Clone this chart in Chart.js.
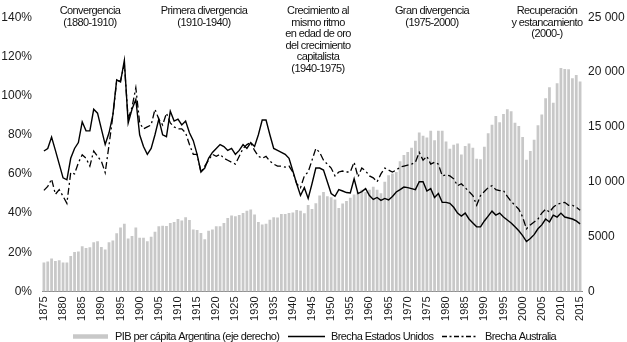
<!DOCTYPE html>
<html lang="es">
<head>
<meta charset="utf-8">
<title>Brecha de PIB per cápita</title>
<script src="https://cdn.jsdelivr.net/npm/chart.js@4.4.1/dist/chart.umd.min.js"></script>
<style>
  html, body { margin: 0; padding: 0; background: #ffffff; }
  #wrap { width: 627px; height: 342px; }
</style>
</head>
<body>
<div id="wrap"><canvas id="myChart" width="627" height="342"></canvas></div>
<script>
// categories: one bar per year
const years = [];
for (let y = 1875; y <= 2015; y++) years.push(String(y));

// PIB per cápita Argentina (eje derecho)
const pibArgentina = [
  2650, 2740, 3000, 2770, 2850, 2650, 2650, 3240, 3590, 3650, 4120, 3970, 4030, 4500, 4590, 4060, 3830, 4500, 4650, 5300, 5830, 6180, 4830, 5060, 5830,
  4890, 4890, 4570, 5000, 5450, 5950, 6000, 5980, 6240, 6330, 6600, 6480, 6770, 6510, 5650, 5600, 5330, 4770, 5540, 5650, 5950, 5950, 6240, 6690, 6930, 6860,
  6980, 7150, 7360, 7480, 7010, 6330, 6100, 6180, 6540, 6770, 6740, 7070, 7070, 7150, 7190, 7420, 7370, 7130, 7890, 7510, 8040, 8750, 9070, 8690, 8600,
  8390, 7600, 8010, 8240, 8540, 8830, 9070, 9280, 9070, 9280, 9540, 9280, 8950, 10010, 10600, 10750, 10890, 11860, 12430, 12720, 13100, 13750, 14490, 14200, 14030,
  14660, 13780, 14660, 14660, 13670, 13010, 13370, 13490, 12480, 13250, 13490, 13100, 12100, 12050, 13190, 14430, 15190, 15990, 15430, 16170, 16610, 16430, 15370, 15080, 14070, 12010,
  12810, 13840, 15160, 16140, 17610, 18610, 17200, 18990, 20380, 20290, 20260, 19430, 19730, 19140,
];

// Brecha Estados Unidos (%)
const brechaEEUU = [
  71.7, 73, 78.8, 72, 65, 58, 57, 68, 73, 76, 86.6, 82, 82, 93, 91, 83, 75, 81, 90, 108, 107, 118, 86, 93, 98,
  80, 74, 70, 73, 80, 88, 80, 79, 92, 87, 88, 85, 87, 81, 77, 70, 61, 63, 68, 71, 73, 75, 74, 72, 73, 70,
  72, 75, 73, 76, 74, 80, 87.5, 87.5, 80, 73, 72, 71, 70, 68, 61.5, 55, 49, 53, 47.5, 55, 63, 63, 62, 56, 50,
  48.6, 52, 51.3, 50.5, 50.3, 57.5, 50, 51, 52.5, 49, 47, 48, 46.5, 47.5, 46.7, 48.5, 50.8, 52, 53.3, 53, 52.5, 52, 56, 56, 51.3,
  52.5, 48, 50, 45.5, 45.5, 45, 43, 40, 38.5, 40, 37, 35, 33, 33, 36, 38.5, 41, 39, 40, 38, 36.5, 35, 33, 31, 28.5, 25.5,
  27, 29, 32, 34, 37, 35.5, 39, 38, 40, 38, 37.5, 37, 36, 34.5,
];

// Brecha Australia (%)
const brechaAustralia = [
  51.6, 53.6, 57.4, 49.6, 52, 48.6, 45, 60.7, 60, 65.7, 69.8, 68, 64, 71.7, 69, 66.5, 60.7, 74.7, 89.6, 107.5, 107.5, 116, 88, 94, 104,
  86, 83, 84, 85, 93, 88, 85, 91, 86, 84, 83, 83, 81, 75, 70, 70, 61, 64, 67, 70, 69, 70, 68, 67, 66, 65,
  69, 73, 75, 76, 72, 69, 68, 69, 66.5, 65, 64, 64, 63.5, 64, 61, 55, 53, 59, 61, 67, 73, 71, 67, 65, 63,
  59, 61, 61.5, 61, 61, 66, 58.5, 63, 61.5, 59, 58, 56, 60, 63, 62, 61, 62, 63.5, 64, 64.5, 65, 66, 71, 67, 69,
  65, 66, 65, 59, 59.5, 59, 57.5, 54, 55, 53, 51, 49, 44, 49, 51, 53, 54, 52, 51.5, 51.5, 48.5, 46, 44, 42, 38, 32,
  34, 35.5, 37, 40, 42, 40.5, 43, 44.5, 45, 45.5, 44, 44, 43, 41.5,
];

// periods written above the plot
const periodos = [
  ["Convergencia", "(1880-1910)"],
  ["Primera divergencia", "(1910-1940)"],
  ["Crecimiento al", "mismo ritmo", "en edad de oro", "del crecimiento", "capitalista", "(1940-1975)"],
  ["Gran divergencia", "(1975-2000)"],
  ["Recuperación", "y estancamiento", "(2000-)"],
];
const periodoX = [90, 204, 318, 432, 547];

const FONT = "'Liberation Sans', Arial, Helvetica, sans-serif";

function formatMiles(v) {
  if (v < 10000) return String(v);
  const s = String(v);
  return s.slice(0, s.length - 3) + " " + s.slice(-3);
}

// annotations + legend drawn on the canvas
const textPlugin = {
  id: "textos",
  afterDraw(chart) {
    const ctx = chart.ctx;
    ctx.save();
    ctx.fillStyle = "#111111";
    ctx.font = "11px " + FONT;
    ctx.letterSpacing = "-0.6px";
    ctx.textAlign = "center";
    ctx.textBaseline = "middle";
    periodos.forEach((lines, i) => {
      lines.forEach((t, j) => {
        ctx.fillText(t, periodoX[i], 11 + j * 11.6);
      });
    });

    // legend
    const ly = 336.5;
    const items = [
      { x0: 73, x1: 108, tx: 115, text: "PIB per cápita Argentina (eje derecho)", color: "#c8c8c8", w: 4.5, dash: [] },
      { x0: 288, x1: 325, tx: 331, text: "Brecha Estados Unidos", color: "#000000", w: 1.4, dash: [] },
      { x0: 442, x1: 478, tx: 485, text: "Brecha Australia", color: "#000000", w: 1.3, dash: [5, 2.5, 2, 2.5] },
    ];
    items.forEach((it) => {
      ctx.beginPath();
      ctx.strokeStyle = it.color;
      ctx.lineWidth = it.w;
      ctx.setLineDash(it.dash);
      ctx.moveTo(it.x0, ly);
      ctx.lineTo(it.x1, ly);
      ctx.stroke();
      ctx.setLineDash([]);
      ctx.textAlign = "left";
      ctx.fillText(it.text, it.tx, ly);
    });
    ctx.restore();
  },
};

function initChart() {
  const ctx = document.getElementById("myChart");
  if (!ctx) return;

  new Chart(ctx, {
    type: "bar",
    data: {
      labels: years,
      datasets: [
        {
          type: "line",
          label: "Brecha Estados Unidos",
          data: brechaEEUU,
          yAxisID: "y",
          borderColor: "#000000",
          borderWidth: 1.4,
          pointRadius: 0,
          tension: 0,
          order: 1,
        },
        {
          type: "line",
          label: "Brecha Australia",
          data: brechaAustralia,
          yAxisID: "y",
          borderColor: "#000000",
          borderWidth: 1.3,
          borderDash: [7, 3, 2, 3],
          pointRadius: 0,
          tension: 0,
          order: 1,
        },
        {
          type: "bar",
          label: "PIB per cápita Argentina (eje derecho)",
          data: pibArgentina,
          yAxisID: "y2",
          backgroundColor: "#c8c8c8",
          borderWidth: 0,
          barPercentage: 0.72,
          categoryPercentage: 1.0,
          order: 2,
        },
      ],
    },
    options: {
      responsive: false,
      animation: false,
      events: [],
      layout: {
        padding: { left: 0, right: 0, top: 7, bottom: 20.5 },
      },
      scales: {
        x: {
          offset: true,
          afterFit: (s) => { s.height = 30; },
          grid: { display: false, drawTicks: false },
          border: { display: true, color: "#8c8c8c", width: 1 },
          ticks: {
            autoSkip: false,
            minRotation: 90,
            maxRotation: 90,
            padding: 5,
            color: "#1a1a1a",
            font: { family: FONT, size: 11 },
            callback: function (value) {
              const lab = this.getLabelForValue(value);
              return (Number(lab) - 1875) % 5 === 0 ? lab : null;
            },
          },
        },
        y: {
          position: "left",
          min: 0,
          max: 140,
          afterFit: (s) => { s.width = 42; },
          grid: { display: false, drawTicks: false },
          border: { display: false },
          ticks: {
            stepSize: 20,
            padding: 10,
            color: "#1a1a1a",
            font: { family: FONT, size: 12 },
            callback: (v) => v + "%",
          },
        },
        y2: {
          position: "right",
          min: 0,
          max: 25000,
          afterFit: (s) => { s.width = 45; },
          grid: { display: false, drawTicks: false },
          border: { display: false },
          ticks: {
            stepSize: 5000,
            padding: 6,
            color: "#1a1a1a",
            font: { family: FONT, size: 12 },
            callback: (v) => formatMiles(v),
          },
        },
      },
      plugins: {
        legend: { display: false },
        tooltip: { enabled: false },
      },
    },
    plugins: [textPlugin],
  });
}

document.addEventListener("DOMContentLoaded", initChart);
</script>
</body>
</html>
